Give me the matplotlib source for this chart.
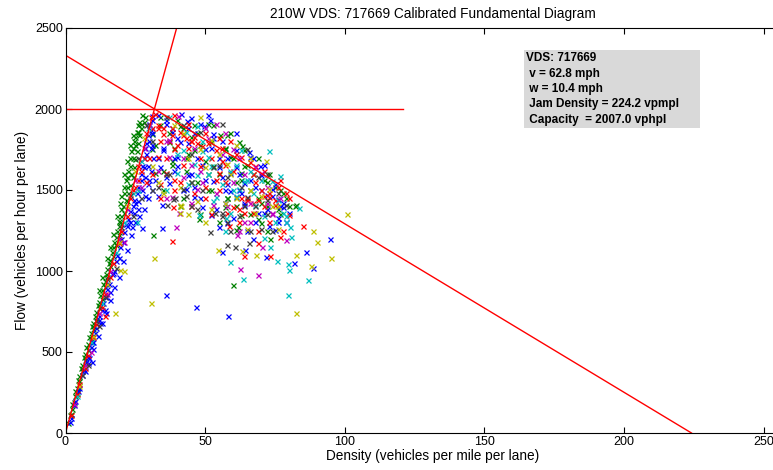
import matplotlib
matplotlib.use("Agg")
import matplotlib.pyplot as plt
from matplotlib.patches import Rectangle

plt.rcParams['font.family'] = ['Liberation Sans', 'DejaVu Sans']

# ---------------- data ----------------
v_free = 62.8
w_cong = 10.4
jam_density = 224.2
capacity = 2007.0
cap_line_y = 2000
cap_line_x = [0, 121]

title = "210W VDS: 717669 Calibrated Fundamental Diagram"
xlabel = "Density (vehicles per mile per lane)"
ylabel = "Flow (vehicles per hour per lane)"
box_lines = ["VDS: 717669", " v = 62.8 mph", " w = 10.4 mph",
             " Jam Density = 224.2 vpmpl", " Capacity  = 2007.0 vphpl"]
xticks = [0, 50, 100, 150, 200, 250]
yticks = [0, 500, 1000, 1500, 2000, 2500]

# scatter points per colour: "density,flow" pairs
green_pts = """1,60 2,120 3,190 4,250 5,320 6,380 7,450 8,510 9,570 10,640 11,700 12,770 13,830
14,900 15,960 16,1030 17,1090 18,1160 19,1220 20,1290 21,1360 22,1430 22.5,1480 23,1530 24,1580
24.5,1640 25,1690 25.5,1740 26,1790 26.5,1840 27,1880 28,1920 28.5,1950 21.5,1440 23.5,1600
22,1520 24,1700 25,1780 26,1860 27,1910 20.5,1400 19.5,1300 18.5,1250 17.5,1180 16.5,1120
15.5,1050 14.5,980 13.5,920 12.5,850 11.5,790 10.5,720 9.5,660 8.5,590 7.5,530 6.5,470 5.5,400
4.5,330 3.5,260 2.5,180 23,1650 24,1760 22,1580 21,1480 25,1830 26,1900 20,1380 19,1310
34,1900 37,1850 39,1760 42,1880 45,1830 48,1780 55.3,1840 63.1,1774 57,1760 60,1700 64,1650
67,1600 71,1560 75,1520 78,1480 80,1400 82.2,1401 76,1380 70,1420 66,1350 61,1400 58,1450
52,1500 47,1550 43,1620 38,1680 35,1620 32,1780 50,1680 55,1600 69,1320 73.4,1196 60.1,914
47.9,1319 31.4,1220 61.8,1274 82.4,1407 44,1720 53,1900 40,1930 46,1900 58,1840 63,1560
1.5,110 2.5,150 3.5,230 4,280 5,350 6,420 7,490 8,550 9,620 10,680 11,750 12,810 13,880
14,940 15,1010 16,1070 17,1150 18,1210 19,1280 20,1340 20,1460 21,1520 21.5,1560 22.5,1620
23,1700 23.5,1740 24.5,1800 25.5,1860 26.5,1920 27.5,1960 22,1680 23,1780 24,1840 21,1600
19.5,1420 18.5,1340 17,1230 16,1150 15,1080 13,960 12,880
34,1948 41,1898 51,1905 31,1848 47,1852 59,1852 37,1798 52,1795 62,1795 31,1752 46,1748
57,1752 64,1745 43,1698 59,1702 69,1698 38,1652 53,1648 65,1652 32,1602 51,1598 63,1602
73,1598 45,1548 61,1552 72,1548 35,1502 51,1498 66,1502 77,1498 42,1452 58,1448 69,1452
79,1452 41,1402 57,1398 72,1402 48,1352 63,1348 77,1352 55,1302 70,1298 61,1252 72,1248"""

blue_pts = """1.5,70 3,170 4.5,260 6,360 7.5,440 9,530 10.5,620 12,720 13.5,800 15,890 16.5,980
18,1060 19.5,1150 21,1240 22.5,1320 24,1400 25.5,1480 27,1560 28,1640 29,1720 30,1800
30.5,1870 31,1930 8,430 10,560 12.5,680 14,760 16,870 17.5,1000 19,1080 20.5,1180 23,1300
24.5,1360 26,1430 27.5,1500 28.5,1580 29.5,1650 30.5,1760 9.4,440 29.6,1449 28,1380 26.5,1340
33,1960 36,1930 41.2,1969 43.4,1928 49.6,1897 50.9,1963 51.7,1932 60.9,1850 65.7,1733 69.6,1650
38,1880 40,1820 35,1760 44,1790 47,1700 52,1760 55,1640 58,1700 62,1600 66,1560 70,1500
74,1460 78,1420 76,1330 72,1380 64,1420 57,1500 50,1560 45,1600 40,1650 36,1580 33,1700
42,1500 48,1450 54,1380 60,1330 68,1300 73,1280 79,1300 62,1500 56,1580 46,1850 53,1820
31,1850 34.4,1407 34.6,1263 27.3,1264 23.7,1270 55.9,1119 55,1270 71.7,1085 81.9,1051
86.1,1115 88.5,1017 94.7,1196 36,852 46.6,780 58.3,724 64.2,1130 39,1700 44,1880 67,1700
2,90 3.5,200 5,280 6.5,390 8,470 9.5,560 11,650 12,700 13,760 14.5,840 15.5,920 17,990
18.5,1100 20,1200 21.5,1290 23,1370 24.5,1440 26,1520 27,1600 28,1700 29,1790 29.5,1840
30,1910 22,1280 25,1420 27.5,1650 28.5,1760 31.5,1700 31,1780 30,1560
31,1955 45,1945 36,1905 48,1910 38,1855 53,1845 41,1795 56,1805 35,1745 50,1755 61,1745
40,1705 55,1695 66,1705 34,1645 49,1655 61,1640 71,1655 44,1595 59,1605 70,1590 37,1545
53,1555 64,1545 75,1540 43,1505 59,1495 74,1505 46,1455 61,1455 76,1445 49,1395 64,1405
78,1395 52,1345 71,1355 58,1295 76,1305 65,1245 75,1255 67,1195
7,380 8.5,460 10,520 11.5,600 13,680 14.5,740 16,820 17.5,900 19,960 20.5,1060 22,1130
23.5,1220 25,1300 26,1380 28.5,1460 29.5,1540 30.5,1620 32,1560 33,1460 31,1500
58,1540 63,1480 68,1520 72,1470 77,1400 80,1360 69,1360 57,1420 46,1520 39,1620"""

red_pts = """2,110 5,300 8,480 11,670 14,860 17,1050 20,1250 23,1450 26,1650 29,1850 30.5,1950
27,1620 24,1500 30,1700 31,1600 29,1550 14.1,722 32,1970 35,1880 38,1840 41,1860 43,1820
45,1800 47,1790 49,1770 40,1780 44,1760 36,1700 52,1700 56,1680 60,1620 63,1450 65,1440
67,1420 69,1440 71,1400 73,1480 75,1440 62,1380 58,1360 50,1520 46,1480 39,1560 34,1540
48,1650 54,1560 77,1560 80,1450 38.4,1393 38.2,1187 58.6,1280 63.9,1093 69.1,1175 73.4,1095
76.8,1212 85.1,1280 55,1820 42,1840 37,1800 33,1880
4,240 7,400 10,590 13,780 16,960 19,1170 22,1340 25,1520 28,1700 31,1880 26,1560
39,1960 33,1900 44,1905 35,1848 50,1850 34,1805 45,1802 59,1805 39,1755 54,1748 33,1705
48,1698 63,1705 42,1655 57,1652 68,1648 36,1602 55,1605 67,1598 41,1552 57,1548 68,1552
39,1498 55,1502 70,1498 34,1448 50,1452 65,1448 73,1455 45,1402 60,1398 75,1405 52,1352
67,1355 80,1345 62,1302 73,1305 69,1250 78,1245
38,1880 46,1830 51,1790 56,1760 61,1720 66,1670 71,1620 76,1520 79,1480 64,1360 71,1460"""

cyan_pts = """4,230 9,560 13,800 18,1120 21,1300 24,1480 27,1680 29.5,1880 26,1500
37,1950 47,1895 73,1741 77,1586 83.7,1391 80.3,1274 80.6,1212 79.7,1041 80.1,1006 86.9,944
79.7,852 63.6,951 59,1053 75.8,1064 73.2,1150 57.4,1329 47.9,1346 25.5,1304 40,1720 46,1660
51,1600 56,1540 61,1460 67,1480 71,1340 75,1300 78,1360 44,1540 36,1500 53,1430 65,1560
59,1620 49,1740 30,1900 43,1855 49,1805 42,1745 63,1748 51,1705 61,1655 40,1605 47,1595
64,1555 74,1555 62,1505 54,1455 68,1405 59,1355 79,1302 57,1248 71,1202
66,1620 76,1440 79,1340 70,1560 60,1500 52,1650"""

magenta_pts = """3,180 7,420 12,740 16,1000 19,1200 22,1380 25,1560 28,1760 30,1900
40.4,1957 36,1800 42,1700 46,1760 51,1820 56,1720 62,1700 68,1640 72,1520 77,1450 74,1360
66,1420 60,1550 54,1480 48,1620 42,1580 36,1450 39.5,1270 40.7,1356 61.3,1222 62.6,1015
69,975 70.4,1150 78.9,1191 58,1400 45,1420 33,1620 64,1300 50,1880
54,1905 57,1852 37,1808 60,1752 37,1702 45,1652 70,1605 49,1552 47,1505 38,1455 53,1405
74,1352 66,1305 62,1245 9,500 15,860 21,1180 27,1520 72,1420 64,1600"""

yellow_pts = """5,290 10,600 15,920 19,1180 22,1400 25,1620 28,1820 17.7,739 19.5,1006 20.9,1000
30.5,804 39,1900 44,1700 50,1640 55,1720 61,1780 71.7,1679 66,1500 70,1460 74,1400 57,1420
52,1380 47,1430 41,1520 35,1480 41.2,1401 41,1356 31.8,1078 54.6,1130 63.1,1125 68.2,1099
82.7,1099 87.9,1033 88.7,1249 89.9,1177 95,1078 100.9,1350 82.4,743 65,1260 76,1260
48,1948 42,1852 52,1808 48,1752 66,1698 31,1650 59,1598 33,1548 73,1505 61,1452 41,1405
44,1352 50,1302 76,1402 58,1660 68,1360"""

grey_pts = """6,360 11,690 15,950 20,1270 23,1470 26,1700 29,1900 14,840 27,1450
36.4,1405 39.2,1449 38.4,1444 44.8,1401 51.7,1243 53.5,1356 57.7,1160 60.7,1146 65.8,1171
42,1900 48,1860 45,1720 53,1640 58,1580 63,1520 68,1400 72,1440 76,1480 62,1340 56,1340
49,1500 43,1460 37,1600 33,1520 70,1260 66,1250 59,1250 47,1380
36,1950 56,1905 31,1805 65,1752 55,1655 36,1598 72,1600 45,1550 31,1498 42,1505 65,1455
64,1400 56,1355 72,1352 58,1302 79,1405 74,1245 8,420 12,660 18,1020 24,1340 69,1580"""

series = [
    (green_pts, (0, 0.5, 0)),
    (blue_pts, (0, 0, 1)),
    (red_pts, (1, 0, 0)),
    (cyan_pts, (0, 0.75, 0.75)),
    (magenta_pts, (0.75, 0, 0.75)),
    (yellow_pts, (0.75, 0.75, 0)),
    (grey_pts, (0.25, 0.25, 0.25)),
]


def parse(s):
    ks, qs = [], []
    for tok in s.split():
        k, q = tok.split(",")
        ks.append(float(k))
        qs.append(float(q))
    return ks, qs


# ---------------- figure ----------------
W, H = 773, 470
left_px, right_px, top_px, bot_px = 65.5, 800.0, 28.0, 433.0
tick250_px = 763.5
xmax = 250 * (right_px - left_px) / (tick250_px - left_px)

fig = plt.figure(figsize=(W / 100, H / 100), dpi=100)
ax = fig.add_axes([left_px / W, 1 - bot_px / H, (right_px - left_px) / W,
                   (bot_px - top_px) / H])

for s, c in series:
    ks, qs = parse(s)
    ax.plot(ks, qs, linestyle='none', marker='x', markersize=3.6,
            markeredgewidth=0.9, color=c)

# fundamental diagram lines
kf = [0, jam_density]
ax.plot(kf, [v_free * k for k in kf], color='red', lw=1)
ax.plot(kf, [w_cong * (jam_density - k) for k in kf], color='red', lw=1)
ax.plot(cap_line_x, [cap_line_y, cap_line_y], color='red', lw=1)

ax.set_xlim(0, xmax)
ax.set_ylim(0, 2500)
ax.set_xticks(xticks)
ax.set_yticks(yticks)
ax.tick_params(direction='in', length=4, width=0.8, labelsize=9, pad=2,
               top=True, right=False)
for sp in ax.spines.values():
    sp.set_linewidth(0.8)

ax.set_title(title, fontsize=9.8, pad=7)
ax.set_xlabel(xlabel, fontsize=9.8, labelpad=1)
ax.set_ylabel(ylabel, fontsize=9.8, labelpad=4)

# info box (positions in pixels of the figure)
def ax_xy(px, py):
    return ((px - left_px) / (right_px - left_px), (bot_px - py) / (bot_px - top_px))

bx0, by0 = ax_xy(524, 128)
bx1, by1 = ax_xy(700, 50)
ax.add_patch(Rectangle((bx0, by0), bx1 - bx0, by1 - by0, transform=ax.transAxes,
                       facecolor='#d9d9d9', edgecolor='none', zorder=5))
line_px = [58, 74, 89, 104, 120]
for txt, py in zip(box_lines, line_px):
    tx, ty = ax_xy(526, py)
    ax.text(tx, ty, txt, transform=ax.transAxes,
            fontsize=8.5, fontweight='bold', va='center', ha='left', zorder=6)

fig.savefig("out.png", dpi=100)
